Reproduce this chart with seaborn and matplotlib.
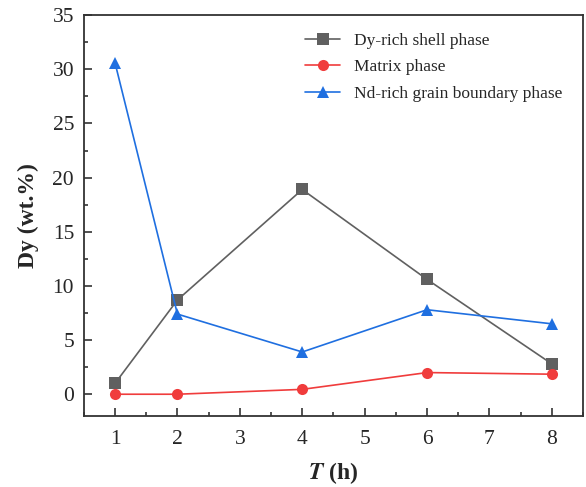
import matplotlib
matplotlib.use("Agg")
import matplotlib.pyplot as plt
from matplotlib.ticker import MultipleLocator
import seaborn as sns
import pandas as pd

# time (h)
hours = [1, 2, 4, 6, 8]
# Dy content (wt.%)
shell = [1.0, 8.7, 18.9, 10.6, 2.8]
matrix = [0.0, 0.0, 0.45, 2.0, 1.85]
boundary = [30.6, 7.4, 3.9, 7.8, 6.5]

names = ["Dy-rich shell phase", "Matrix phase", "Nd-rich grain boundary phase"]

df = pd.DataFrame({
    "T": hours * 3,
    "Dy": shell + matrix + boundary,
    "phase": [names[0]] * 5 + [names[1]] * 5 + [names[2]] * 5,
})

sns.set_style("ticks")
plt.rcParams["font.family"] = ["Liberation Serif", "DejaVu Serif"]
plt.rcParams["mathtext.fontset"] = "stix"

fig = plt.figure(figsize=(5.86, 4.87), dpi=100)
ax = fig.add_axes([0.143, 0.146, 0.852, 0.823])

palette = {names[0]: "#606060", names[1]: "#f03c3c", names[2]: "#1f6fe0"}
markers = {names[0]: "s", names[1]: "o", names[2]: "^"}

sns.lineplot(data=df, x="T", y="Dy", hue="phase", style="phase",
             palette=palette, markers=markers, dashes=False,
             markersize=8, markeredgewidth=0, linewidth=1.2, ax=ax)

ax.set_xlim(0.5, 8.5)
ax.set_ylim(-2, 35)
ax.xaxis.set_major_locator(MultipleLocator(1))
ax.xaxis.set_minor_locator(MultipleLocator(0.5))
ax.yaxis.set_major_locator(MultipleLocator(5))
ax.yaxis.set_minor_locator(MultipleLocator(2.5))
ax.tick_params(which="both", direction="in", width=1.2, labelsize=15.5, color="#333333")
ax.tick_params(which="major", length=6)
ax.tick_params(which="minor", length=3)
ax.tick_params(axis="x", pad=10)
ax.tick_params(axis="y", pad=7)
for s in ax.spines.values():
    s.set_linewidth(1.3)
    s.set_color("#333333")

ax.set_xlabel(r"$\boldsymbol{T}$ (h)", fontsize=17, fontweight="bold", labelpad=8)
ax.set_ylabel("Dy (wt.%)", fontsize=17, fontweight="bold", labelpad=10)

ax.legend(frameon=False, fontsize=12.5, loc="upper right",
          bbox_to_anchor=(0.99, 0.995), handlelength=2.0, labelspacing=0.6)

fig.savefig("out.png", dpi=100)
